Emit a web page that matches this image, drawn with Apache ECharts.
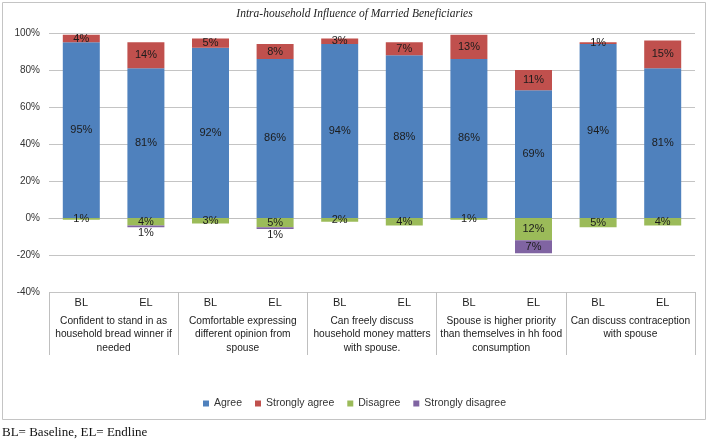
<!DOCTYPE html>
<html>
<head>
<meta charset="utf-8">
<script src="https://cdn.jsdelivr.net/npm/echarts@6/dist/echarts.min.js"></script>
<style>
  html, body { margin: 0; padding: 0; background: #ffffff; }
  #chart { width: 709px; height: 442px; }
</style>
</head>
<body>
<div id="chart"></div>
<script>
// ---- Data ----
const categories = ['BL', 'EL', 'BL', 'EL', 'BL', 'EL', 'BL', 'EL', 'BL', 'EL'];
const groups = [
  'Confident to stand in as\nhousehold bread winner if\nneeded',
  'Comfortable expressing\ndifferent opinion from\nspouse',
  'Can freely discuss\nhousehold money matters\nwith spouse.',
  'Spouse is higher priority\nthan themselves in hh food\nconsumption',
  'Can discuss contraception\nwith spouse'
];
const agree            = [95, 81, 92, 86, 94, 88, 86, 69, 94, 81];
const stronglyAgree    = [4, 14, 5, 8, 3, 7, 13, 11, 1, 15];
const disagree         = [1, 4, 3, 5, 2, 4, 1, 12, 5, 4];
const stronglyDisagree = [0, 1, 0, 1, 0, 0, 0, 7, 0, 0];
const seriesNames = ['Agree', 'Strongly agree', 'Disagree', 'Strongly disagree'];
const yMin = -40, yMax = 100, yStep = 20;
const footnote = 'BL= Baseline, EL= Endline';
const titleText = 'Intra-household Influence of Married Beneficiaries';

// ---- Styles ----
const colors = ['#4F81BD', '#C0504D', '#9BBB59', '#8064A2'];
const labelColor = '#1c1c1c';
const sans = 'Liberation Sans, Arial, sans-serif';
const serif = 'Liberation Serif, Times New Roman, serif';

const chart = echarts.init(document.getElementById('chart'), null, { renderer: 'canvas' });

function absFmt(p) {
  if (p.value === null || p.value === undefined || p.value === 0) return '';
  return Math.abs(p.value) + '%';
}

const baseLabel = {
  show: true,
  position: 'inside',
  color: labelColor,
  fontSize: 11,
  fontFamily: sans,
  formatter: absFmt
};

function negData(arr, smallBelow) {
  return arr.map(function (v) {
    if (!v) return null;
    const item = { value: -v };
    if (smallBelow && v <= 1) {
      item.label = { position: 'bottom', distance: 0 };
    }
    return item;
  });
}

const option = {
  animation: false,
  backgroundColor: '#ffffff',
  color: colors,
  title: {
    text: titleText,
    left: 'center',
    top: 3,
    textStyle: {
      fontFamily: serif,
      fontStyle: 'italic',
      fontWeight: 'normal',
      fontSize: 11.5,
      color: '#222'
    }
  },
  legend: {
    data: seriesNames,
    left: 'center',
    top: 393,
    icon: 'rect',
    itemWidth: 6,
    itemHeight: 6,
    itemGap: 13,
    textStyle: { fontFamily: sans, fontSize: 10.5, color: '#333' }
  },
  grid: { left: 49, right: 14, top: 33, bottom: 150, containLabel: false },
  xAxis: [
    {
      type: 'category',
      data: categories,
      position: 'bottom',
      axisLine: { show: true, lineStyle: { color: '#BFBFBF', width: 1 } },
      axisTick: { show: false },
      axisLabel: { interval: 0, margin: 5, fontSize: 11, fontFamily: sans, color: '#222' }
    },
    {
      type: 'category',
      data: groups,
      position: 'bottom',
      axisLine: { show: false },
      axisTick: { show: true, length: 63, interval: 0, lineStyle: { color: '#BFBFBF', width: 1 } },
      axisLabel: {
        interval: 0, margin: 22, fontSize: 10.2, lineHeight: 13.5,
        fontFamily: sans, color: '#222', align: 'center'
      }
    }
  ],
  yAxis: {
    type: 'value',
    min: yMin,
    max: yMax,
    interval: yStep,
    axisLine: { show: false },
    axisTick: { show: false },
    splitLine: { lineStyle: { color: '#C4C4C4', width: 1 } },
    axisLabel: {
      formatter: '{value}%', fontSize: 10, fontFamily: sans, color: '#333', margin: 9
    }
  },
  series: [
    {
      name: seriesNames[0], type: 'bar', stack: 'total', barWidth: 37,
      data: agree, label: baseLabel
    },
    {
      name: seriesNames[1], type: 'bar', stack: 'total', barWidth: 37,
      data: stronglyAgree, label: baseLabel
    },
    {
      name: seriesNames[2], type: 'bar', stack: 'total', barWidth: 37,
      data: negData(disagree, false), label: baseLabel
    },
    {
      name: seriesNames[3], type: 'bar', stack: 'total', barWidth: 37,
      data: negData(stronglyDisagree, true), label: baseLabel
    }
  ],
  graphic: [
    {
      type: 'rect',
      silent: true,
      z: -1,
      shape: { x: 2.5, y: 2.5, width: 703, height: 417 },
      style: { fill: 'none', stroke: '#C4C4C4', lineWidth: 1 }
    },
    {
      type: 'text',
      left: 2,
      top: 426,
      style: { text: footnote, font: '13px ' + serif, fill: '#111' }
    }
  ]
};

chart.setOption(option);
</script>
</body>
</html>
